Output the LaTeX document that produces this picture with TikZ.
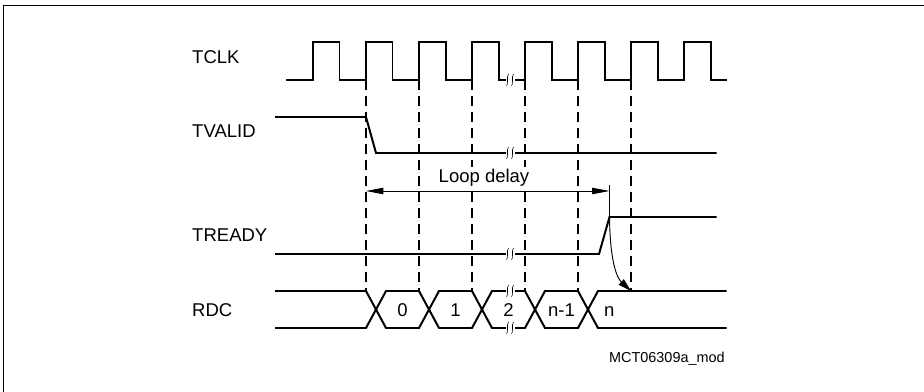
\documentclass[tikz,border=0pt]{standalone}
\usepackage{fontspec}
\setmainfont{Liberation Sans}
\usetikzlibrary{arrows.meta,calc,positioning}
\tikzset{
 timing/.style={x=0.3mm,y=-0.3mm,line join=miter,
   font=\fontsize{15.8}{18}\selectfont},
 sig/.style={draw=black,line width=1.7pt},
 grid/.style={draw=black,line width=1.3pt,dash pattern=on 3mm off 1.8mm},
 thin/.style={draw=black,line width=0.8pt},
 cut/.style={draw=black,line width=0.45pt},
 measure/.style={thin,{Triangle[length=5.2mm,width=1.9mm]}-{Triangle[length=5.2mm,width=1.9mm]}},
 cause/.style={thin,-{Triangle[length=4mm,width=2.2mm]}},
 siglabel/.style={anchor=base west,inner sep=0pt},
 datalabel/.style={anchor=base,inner sep=0pt},
 masklabel/.style={anchor=base,inner sep=1.5pt,fill=white},
 tag/.style={anchor=base west,inner sep=0pt,font=\fontsize{12.3}{14}\selectfont},
 frame/.style={draw=black,line width=0.8pt}
}
% break mark on a signal line
\newcommand\sigcut[2]{%
 \fill[white] (#1-4.5,#2-2.8) rectangle (#1+4.5,#2+2.8);
 \draw[cut] (#1-3.5,#2+6) .. controls (#1-1,#2+3) and (#1-4,#2-3) .. (#1-1.5,#2-6);
 \draw[cut] (#1+1.5,#2+6) .. controls (#1+4,#2+3) and (#1+1,#2-3) .. (#1+3.5,#2-6);
}
\begin{document}
\begin{tikzpicture}[timing]
 \useasboundingbox (0,0) rectangle (924,392);
 \draw[frame] (3,5) rectangle (930,398);
 % signal names
 \node[siglabel] (tclk) at (192,64) {TCLK};
 \node[siglabel] (tvalid) at (192,138) {TVALID};
 \node[siglabel] (tready) at (192,242) {TREADY};
 \node[siglabel] (rdc) at (192,316) {RDC};
 % reference lines
 \foreach \r in {366,419,...,631} \draw[grid] (\r,80) -- (\r,291);
 % clock
 \draw[sig] (286,80) -- (313,80)
   \foreach \r in {313,366,...,684}{ -- (\r,80) -- (\r,42) -- (\r+26.5,42) -- (\r+26.5,80)} -- (726.7,80);
 % TVALID
 \draw[sig] (275,117) -- (366,117) -- (376,153) -- (716.7,153);
 % TREADY
 \coordinate (rdy) at (609.5,217);
 \draw[sig] (275,254) -- (599,254) -- (rdy) -- (716.7,217);
 % RDC bus
 \draw[sig] (275,291) -- (366,291) -- (376,309.5) -- (366,328) -- (275,328);
 \foreach \a in {366,419,472,525}
   \draw[sig] (\a+10,309.5) -- (\a+20,291) -- (\a+53,291) -- (\a+63,309.5) -- (\a+53,328) -- (\a+20,328) -- cycle;
 \draw[sig] (726.7,291) -- (598,291) -- (588,309.5) -- (598,328) -- (726.7,328);
 \node[datalabel] (d0) at (402.5,316) {0};
 \node[datalabel] (d1) at (455.5,316) {1};
 \node[datalabel] (d2) at (508.5,316) {2};
 \node[datalabel] (dn1) at (561.5,316) {n-1};
 \node[siglabel] (dn) at (604,316) {n};
 % breaks
 \foreach \y in {80,153,254,291,328} \sigcut{510}{\y}
 % loop delay
 \coordinate (ldA) at (366,191);
 \coordinate (ldB) at (609.5,191);
 \draw[measure] (ldA) -- (ldB);
 \draw[thin] (609.5,185) -- (rdy);
 \node[masklabel] (loop) at (484,182) {Loop delay};
 % TREADY to RDC
 \coordinate (rdcn) at (631,291);
 \draw[cause] (rdy) .. controls (610,262) and (617,278) .. (rdcn);
 \node[tag] (fig) at (609,362.7) {MCT06309a\_mod};
\end{tikzpicture}
\end{document}
